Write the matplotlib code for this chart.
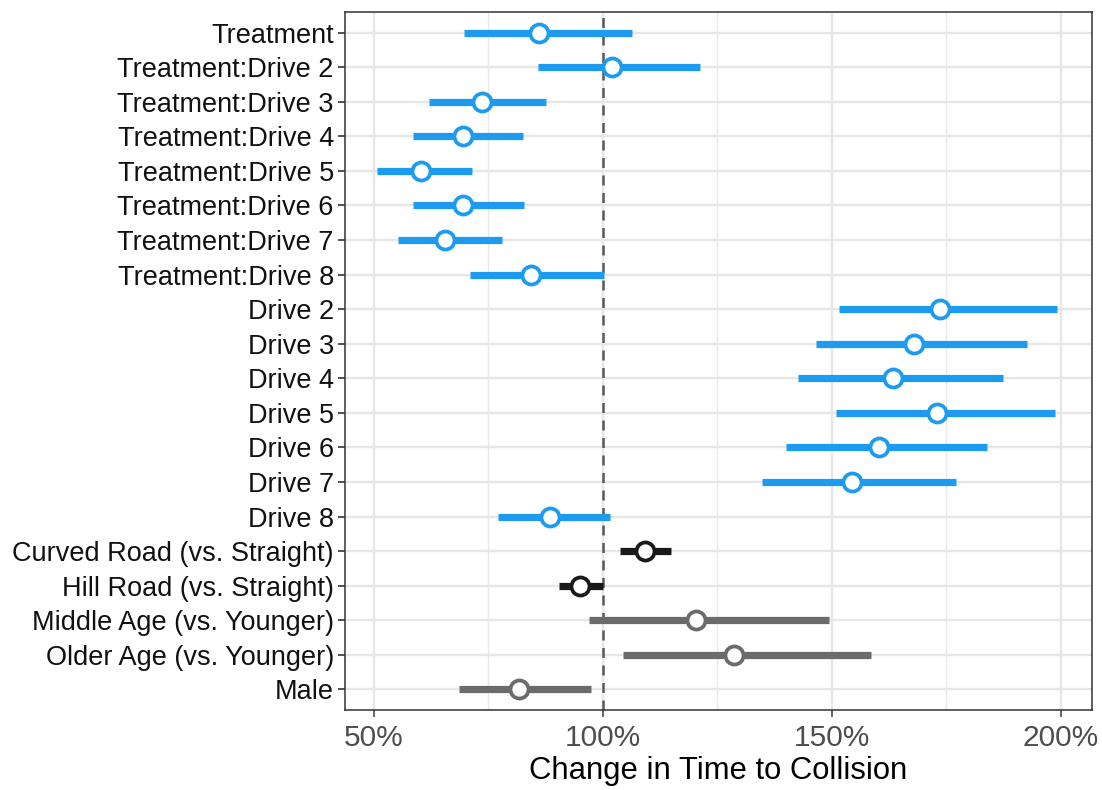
import numpy as np
import matplotlib
matplotlib.use("Agg")
import matplotlib.pyplot as plt
from matplotlib.ticker import FixedLocator, FuncFormatter

plt.rcParams['font.family'] = ['Liberation Sans', 'DejaVu Sans']

# terms, top to bottom
terms = ["Treatment", "Treatment:Drive 2", "Treatment:Drive 3", "Treatment:Drive 4",
         "Treatment:Drive 5", "Treatment:Drive 6", "Treatment:Drive 7", "Treatment:Drive 8",
         "Drive 2", "Drive 3", "Drive 4", "Drive 5", "Drive 6", "Drive 7", "Drive 8",
         "Curved Road (vs. Straight)", "Hill Road (vs. Straight)",
         "Middle Age (vs. Younger)", "Older Age (vs. Younger)", "Male"]
# estimates in percent
est = [86.0, 102.0, 73.6, 69.4, 60.2, 69.4, 65.5, 84.4,
       173.7, 167.9, 163.3, 173.0, 160.2, 154.4, 88.5,
       109.1, 95.1, 120.3, 128.6, 81.8]
lower = [69.7, 85.9, 62.0, 58.5, 50.7, 58.5, 55.2, 71.1,
         151.6, 146.5, 142.5, 150.9, 140.0, 134.7, 77.2,
         103.7, 90.4, 97.0, 104.4, 68.7]
upper = [106.3, 121.3, 87.5, 82.5, 71.5, 82.7, 77.9, 100.2,
         199.2, 192.6, 187.3, 198.6, 183.9, 177.1, 101.5,
         114.8, 100.1, 149.3, 158.5, 97.4]
group = ["drive"] * 15 + ["road"] * 2 + ["demo"] * 3

colors = {"drive": "#1C9BF0", "road": "#1A1A1A", "demo": "#6B6B6B"}

fig = plt.figure(figsize=(11.02, 7.9), dpi=100)
ax = fig.add_axes([0.313, 0.101, 0.678, 0.884])

n = len(terms)
ypos = np.arange(n)[::-1] + 1

ax.set_xlim(43.7, 206.8)
ax.set_ylim(0.4, n + 0.6)

# grid (theme_bw style)
ax.xaxis.set_major_locator(FixedLocator([50, 100, 150, 200]))
ax.xaxis.set_minor_locator(FixedLocator([75, 125, 175]))
ax.set_yticks(ypos)
ax.set_yticklabels(terms)
ax.grid(True, which='major', color='#E6E6E6', lw=1.7, zorder=0)
ax.grid(True, which='minor', axis='x', color='#E9E9E9', lw=1.0, zorder=0)
ax.set_axisbelow(True)

ax.axvline(100, color='#5A5A5A', lw=1.8, ls=(0, (4, 3)), zorder=1)

for y, e, lo, hi, g in zip(ypos, est, lower, upper, group):
    c = colors[g]
    ax.hlines(y, lo, hi, color=c, lw=5.2, capstyle='butt', zorder=2)
    ax.plot(e, y, 'o', ms=13, mfc='white', mec=c, mew=2.7, zorder=3)

ax.xaxis.set_major_formatter(FuncFormatter(lambda v, p: f"{v:.0f}%"))
ax.tick_params(axis='x', which='major', labelsize=21.5, colors='#4D4D4D',
               length=5, width=1.2, pad=5)
ax.tick_params(axis='x', which='minor', length=0)
ax.tick_params(axis='y', labelsize=19.5, labelcolor='#111111', color='#333333',
               length=5, width=1.2, pad=3)

for s in ax.spines.values():
    s.set_color('#333333')
    s.set_linewidth(1.1)

ax.set_xlabel("Change in Time to Collision", fontsize=22.3, color='black', labelpad=3)

fig.savefig("out.png", dpi=100)
